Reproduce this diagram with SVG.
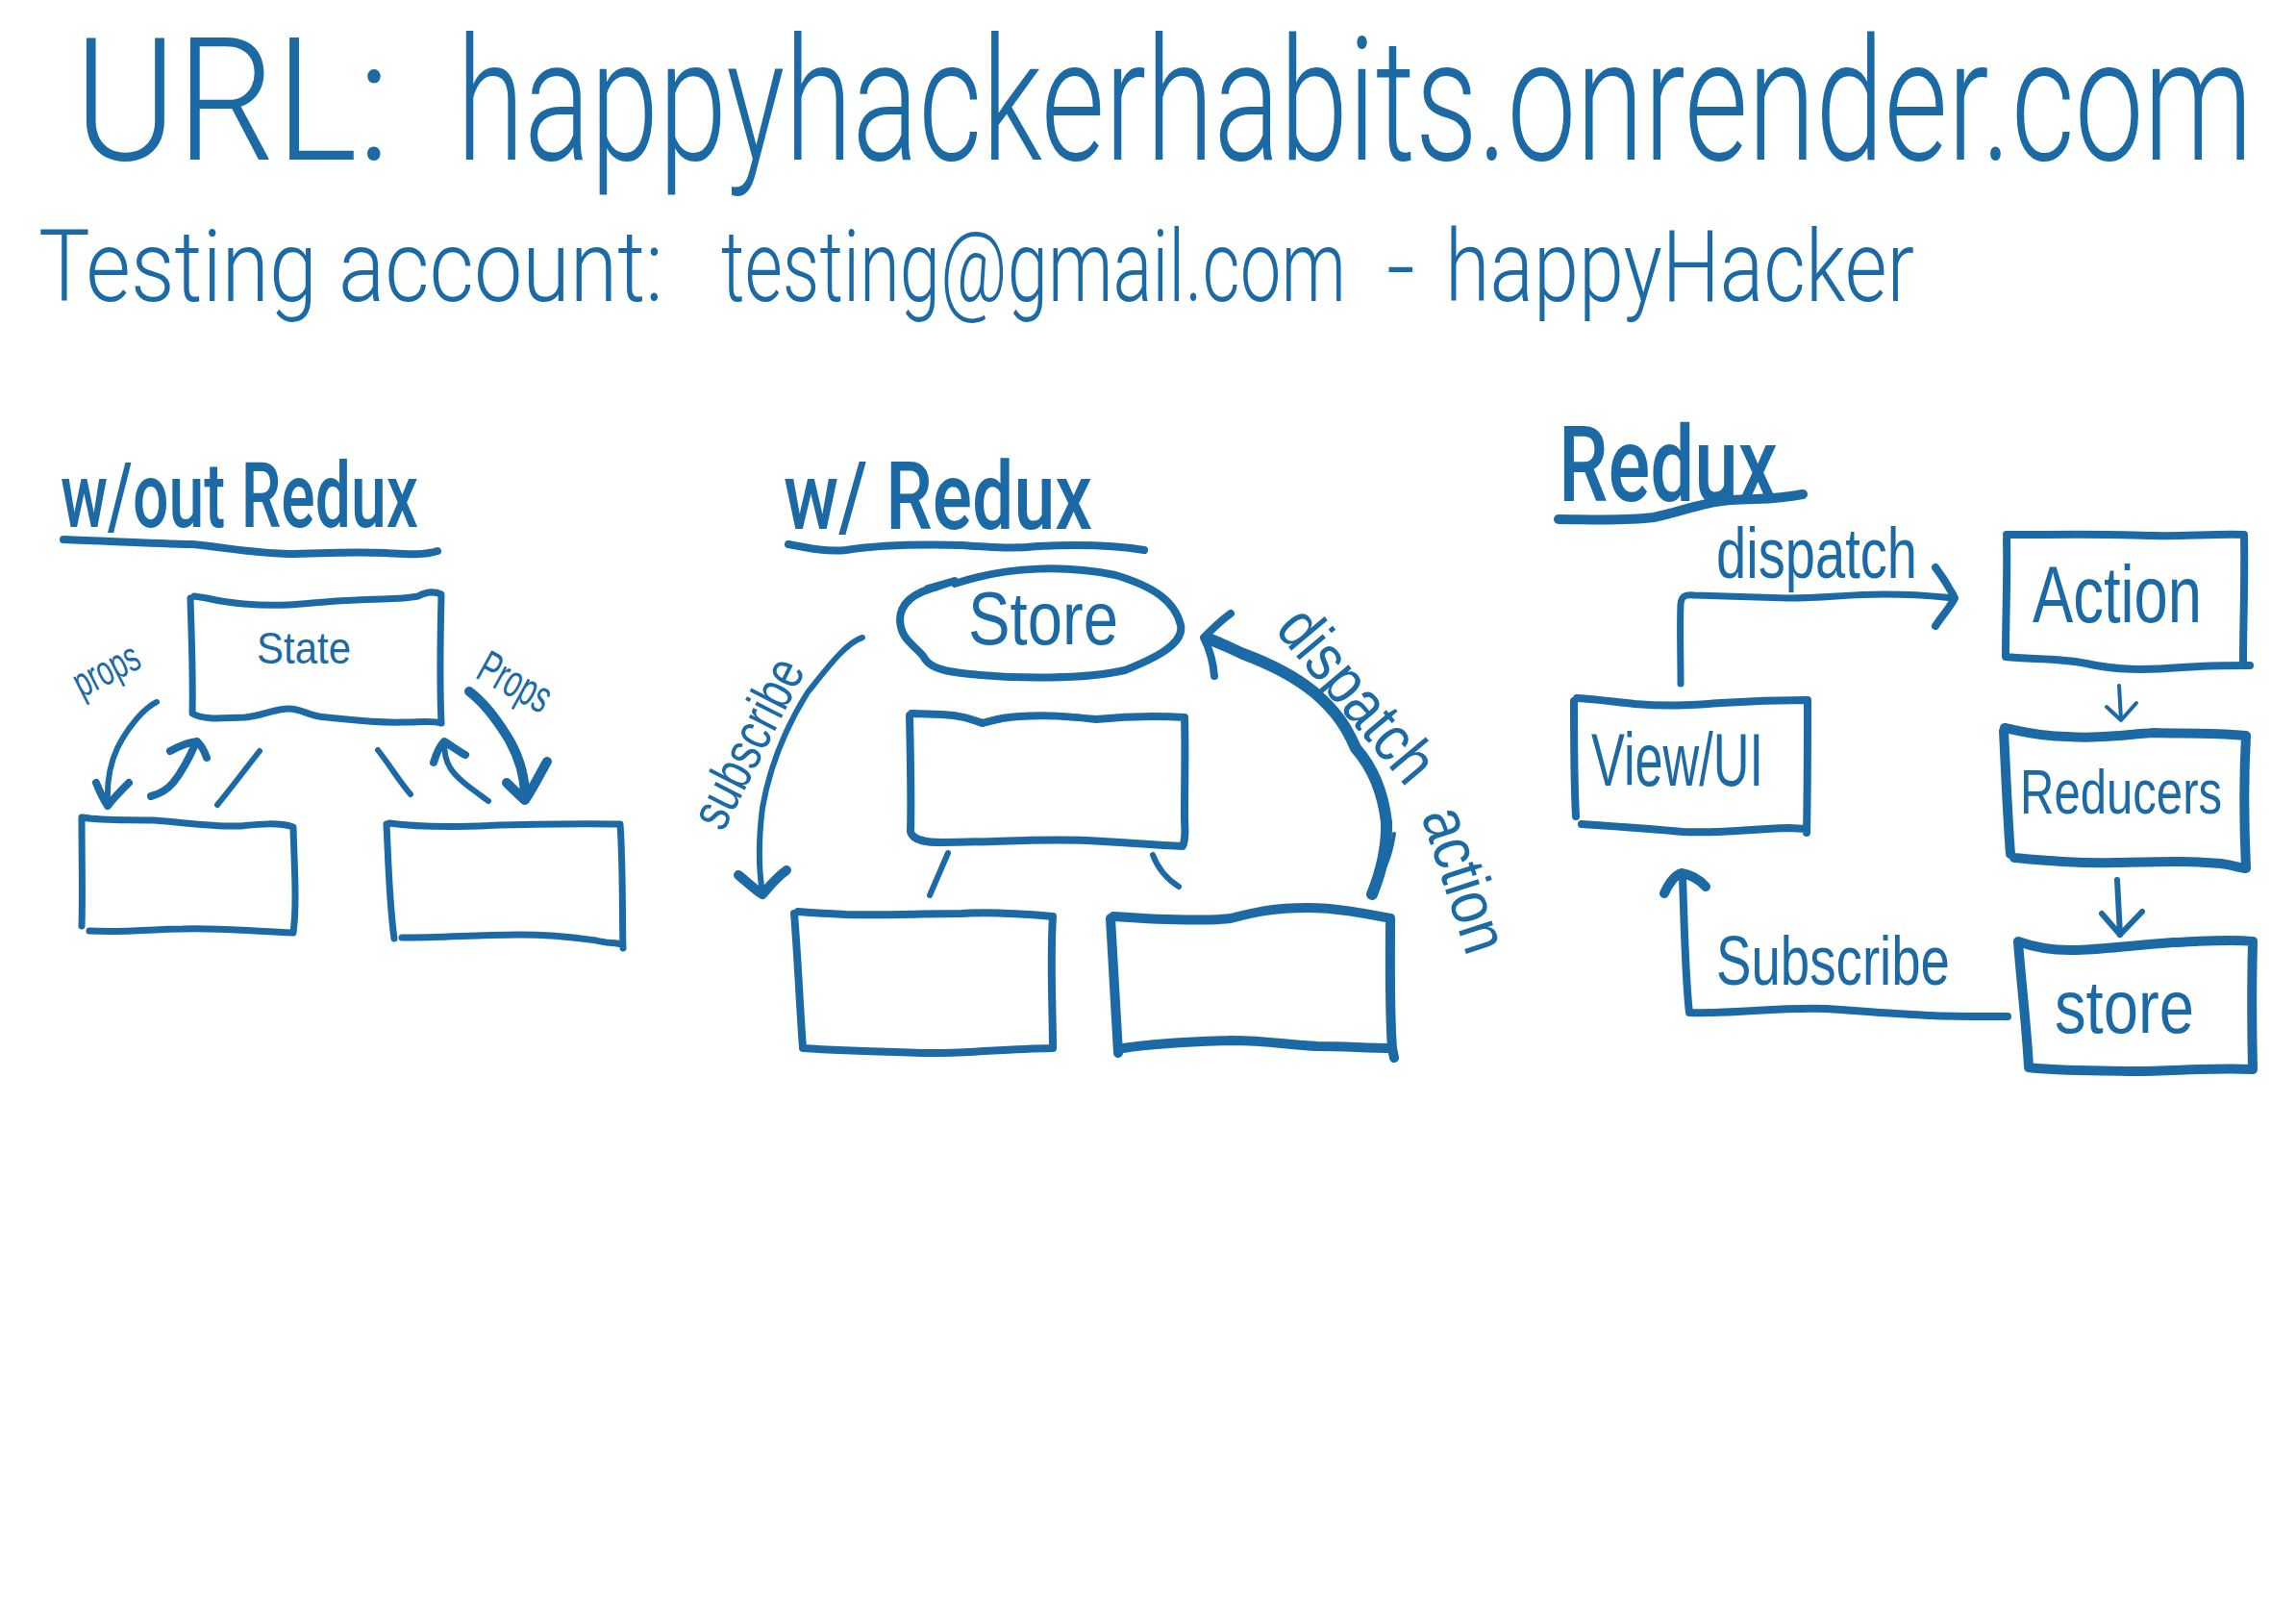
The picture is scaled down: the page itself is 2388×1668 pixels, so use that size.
<svg xmlns="http://www.w3.org/2000/svg" width="2388" height="1668" viewBox="0 0 2388 1668">
<defs>
<style>
.bg{fill:#ffffff}
.ln{fill:none;stroke:#1b6aa6;stroke-linecap:round;stroke-linejoin:round}
.w4{stroke-width:4}
.w6{stroke-width:6}
.w7{stroke-width:7}
.w8{stroke-width:8}
.w10{stroke-width:10}
.w12{stroke-width:12}
.t{fill:#1b6aa6;font-family:"Liberation Sans",Arial,sans-serif}
.thin{font-family:Roboto,"Liberation Sans",Arial,sans-serif;font-weight:300}
.b{font-family:Roboto,"Liberation Sans",Arial,sans-serif;font-weight:500}
</style>
</defs>
<rect class="bg" x="0" y="0" width="2388" height="1668"/>

<g id="title">
<text class="t thin" x="77" y="166" font-size="178" textLength="329" lengthAdjust="spacingAndGlyphs">URL:</text>
<text class="t thin" x="475" y="166" font-size="178" textLength="1868" lengthAdjust="spacingAndGlyphs">happyhackerhabits.onrender.com</text>
</g>
<g id="account">
<text class="t thin" x="40" y="313" font-size="104" textLength="650" lengthAdjust="spacingAndGlyphs">Testing account:</text>
<text class="t thin" x="750" y="313" font-size="104" textLength="650" lengthAdjust="spacingAndGlyphs">testing@gmail.com</text>
<text class="t thin" x="1442" y="313" font-size="104" textLength="30" lengthAdjust="spacingAndGlyphs">-</text>
<text class="t thin" x="1503" y="313" font-size="104" textLength="488" lengthAdjust="spacingAndGlyphs">happyHacker</text>
</g>

<!-- Section 1: without Redux -->
<g id="heading-wout-redux">
<text class="t b" x="63" y="548" font-size="94" textLength="372" lengthAdjust="spacingAndGlyphs">w/out Redux</text>
<path class="ln w8" d="M66,561 C120,563 160,565 200,566 C240,570 260,575 300,576 C330,576 360,573 400,575 C420,576 440,578 455,573"/>
</g>
<g id="state">
<path class="ln w7" d="M198,622 C199,660 201,700 200,742 C215,750 235,746 255,746 C275,744 285,737 300,737 C315,737 320,745 340,746 C370,749 390,752 420,751 C435,751 450,749 459,752 M459,752 C457,710 458,660 459,618 C450,614 442,616 435,620 C415,624 395,622 370,624 C340,625 320,628 300,629 C270,630 240,628 215,622 L202,620"/>
<text class="t" x="267" y="690" font-size="46" textLength="98" lengthAdjust="spacingAndGlyphs">State</text>
</g>
<g id="child-left-1">
<path class="ln w7" d="M85,850 C85,890 86,930 85,963 M93,968 C130,970 160,966 190,966 C230,965 260,968 305,970 C309,940 306,900 305,860 C290,855 270,857 250,859 C220,860 190,855 160,853 C130,852 110,854 86,850"/>
</g>
<g id="child-right-1">
<path class="ln w7" d="M402,857 C404,900 405,940 410,976 M418,975 C460,975 500,972 540,972 C580,972 605,976 620,978 C630,981 640,980 647,982 M648,986 C647,950 648,900 645,857 C600,856 560,857 520,858 C480,860 440,861 405,856"/>
</g>

<!-- Section 2: with Redux -->
<g id="heading-w-redux">
<text class="t b" x="815" y="550" font-size="98" textLength="321" lengthAdjust="spacingAndGlyphs">w/ Redux</text>
<path class="ln w8" d="M820,566 C840,570 860,574 880,572 C920,566 960,566 1000,567 C1030,569 1050,571 1080,568 C1120,566 1160,567 1190,572"/>
</g>
<g id="store-ellipse">
<path class="ln w8" d="M993,607 C1050,588 1110,588 1160,598 C1200,610 1222,625 1228,650 C1232,670 1200,685 1170,697 C1130,706 1060,707 1000,700 C975,697 965,692 960,682 C950,670 937,665 936,645 C936,625 955,615 975,610 L993,604 L965,612"/>
<text class="t" x="1007" y="670" font-size="77" textLength="156" lengthAdjust="spacingAndGlyphs">Store</text>
</g>
<g id="mid-box">
<path class="ln w8" d="M946,744 C947,790 948,830 947,865 C950,875 965,876 980,876 C1030,876 1080,872 1130,874 C1170,876 1200,879 1230,880 C1234,872 1232,860 1232,850 C1232,810 1233,780 1232,746 C1200,744 1170,745 1140,748 C1110,745 1090,743 1060,745 C1040,746 1030,750 1022,752 C1010,748 1000,744 980,743 L948,742"/>
</g>
<g id="bottom-left-box">
<path class="ln w8" d="M826,950 C830,1000 832,1050 835,1090 C880,1093 930,1094 960,1095 C1000,1096 1040,1091 1095,1090 C1095,1050 1092,1000 1095,953 C1060,950 1030,948 1000,950 C960,950 920,952 880,951 C860,950 840,949 830,948"/>
</g>
<g id="bottom-right-box">
<path class="ln w10" d="M1155,955 C1158,1000 1160,1050 1163,1095 M1168,1090 C1200,1085 1240,1083 1280,1082 C1320,1082 1340,1087 1370,1088 C1400,1088 1420,1090 1448,1090 L1450,1100 M1448,1090 C1445,1050 1446,1000 1446,955 C1420,950 1390,944 1360,944 C1320,944 1300,950 1280,955 C1250,958 1200,956 1158,953"/>
</g>

<!-- Section 3: Redux flow -->
<g id="heading-redux">
<text class="t b" x="1621" y="521" font-size="109" textLength="228" lengthAdjust="spacingAndGlyphs">Redux</text>
<path class="ln w10" d="M1621,540 C1650,540 1690,542 1720,538 C1750,532 1770,522 1800,520 C1830,518 1845,520 1875,514"/>
</g>
<g id="action">
<path class="ln w8" d="M2087,560 C2088,600 2086,640 2086,683 C2110,686 2140,684 2170,690 C2200,697 2230,697 2270,694 C2300,692 2320,692 2340,692 M2333,687 C2333,650 2335,600 2334,556 C2300,555 2270,558 2240,557 C2200,556 2170,555 2130,556 L2087,556"/>
<text class="t" x="2114" y="647" font-size="84" textLength="176" lengthAdjust="spacingAndGlyphs">Action</text>
</g>
<g id="reducers">
<path class="ln w10" d="M2084,760 C2086,800 2088,850 2091,888 M2095,892 C2130,895 2160,898 2200,897 C2250,896 2280,895 2310,898 C2325,900 2330,903 2336,903 C2334,860 2333,820 2336,765 C2300,762 2270,763 2240,762 C2200,765 2180,768 2150,766 C2120,766 2100,760 2085,757"/>
<text class="t" x="2101" y="846" font-size="64" textLength="210" lengthAdjust="spacingAndGlyphs">Reducers</text>
</g>
<g id="store">
<path class="ln w10" d="M2099,980 C2103,1030 2108,1070 2110,1110 C2140,1114 2180,1113 2220,1114 C2260,1114 2300,1110 2343,1112 C2342,1070 2342,1020 2343,979 C2320,976 2290,979 2260,980 C2220,983 2190,987 2160,988 C2130,989 2110,983 2099,979"/>
<text class="t" x="2137" y="1074" font-size="78" textLength="145" lengthAdjust="spacingAndGlyphs">store</text>
</g>
<g id="view-ui">
<path class="ln w8" d="M1637,729 C1637,770 1637,810 1639,849 M1645,857 C1690,860 1720,862 1750,865 C1790,867 1820,862 1860,861 L1879,862 M1879,866 C1880,820 1880,770 1880,728 C1850,728 1820,729 1790,731 C1760,733 1740,735 1700,732 C1680,730 1660,727 1640,726"/>
<text class="t" x="1655" y="817" font-size="78" textLength="179" lengthAdjust="spacingAndGlyphs">View/UI</text>
</g>

<g id="connectors">
<!-- without redux -->
<path class="ln w6" d="M163,730 C150,736 133,756 122,778 C114,795 111,815 112,836"/>
<path class="ln w8" d="M100,814 C104,824 108,832 112,838 C118,830 126,822 134,814"/>
<path class="ln w8" d="M157,828 C165,826 174,821 180,814 C188,804 196,790 203,774"/>
<path class="ln w8" d="M177,781 C186,776 196,772 205,771 C210,776 213,782 215,788"/>
<path class="ln w6" d="M226,837 C240,820 255,800 270,781"/>
<path class="ln w6" d="M393,780 C405,795 415,812 427,826"/>
<path class="ln w6" d="M508,833 C490,820 474,809 468,798 C463,790 462,780 462,772"/>
<path class="ln w8" d="M451,793 C454,783 458,775 462,771 C470,776 478,782 484,785"/>
<path class="ln w10" d="M488,719 C500,728 515,745 530,770 C540,788 546,806 546,828"/>
<path class="ln w10" d="M527,814 C535,822 541,828 546,832 C554,820 562,804 569,792"/>
<text class="t" transform="translate(85,726) rotate(-27)" font-size="44" textLength="72" lengthAdjust="spacingAndGlyphs">props</text>
<text class="t" transform="translate(493,704) rotate(29)" font-size="48" textLength="80" lengthAdjust="spacingAndGlyphs">Props</text>
<!-- with redux -->
<path class="ln w6" d="M986,887 L967,931"/>
<path class="ln w6" d="M1199,889 C1205,905 1215,915 1226,922"/>
<path class="ln w6" d="M897,663 C880,668 860,695 840,720 C815,760 800,800 793,840 C788,880 790,910 793,928"/>
<path class="ln w10" d="M768,910 C778,918 785,925 793,930 C800,922 808,912 818,905"/>
<text class="t" transform="translate(752,866) rotate(-63)" font-size="58" textLength="190" lengthAdjust="spacingAndGlyphs">subscribe</text>
<path class="ln w12" d="M1427,930 C1435,910 1443,885 1442,855 C1438,820 1425,795 1410,778 C1400,755 1390,740 1367,720 C1345,702 1320,690 1293,680 C1280,674 1268,668 1256,664"/>
<path class="ln w8" d="M1280,638 C1270,645 1260,655 1252,663 C1258,675 1262,690 1263,703"/>
<path class="ln w4" d="M1450,867 C1447,885 1443,898 1438,905"/>
<text class="t" transform="translate(1325,655) rotate(50)" font-size="68" textLength="215" lengthAdjust="spacingAndGlyphs">dispatch</text>
<text class="t" transform="translate(1478,848) rotate(72)" font-size="68" textLength="155" lengthAdjust="spacingAndGlyphs">action</text>
<!-- redux flow -->
<path class="ln w7" d="M1748,711 C1748,680 1747,650 1748,628 C1749,620 1752,618 1762,619 C1800,620 1830,621 1860,622 C1900,622 1920,618 1960,618 C2000,618 2020,621 2031,622"/>
<path class="ln w8" d="M2013,590 C2022,602 2028,612 2033,622 C2028,632 2020,640 2013,651"/>
<text class="t" x="1785" y="601" font-size="74" textLength="209" lengthAdjust="spacingAndGlyphs">dispatch</text>
<path class="ln w4" d="M2204,713 L2206,748"/>
<path class="ln w4" d="M2191,735 L2206,749 L2222,731"/>
<path class="ln w6" d="M2202,915 L2205,972"/>
<path class="ln w6" d="M2186,950 L2205,972 L2228,948"/>
<path class="ln w8" d="M2088,1057 C2000,1058 1950,1052 1900,1049 C1850,1047 1800,1055 1757,1053 C1753,1020 1752,970 1750,912"/>
<path class="ln w10" d="M1731,929 C1736,918 1742,910 1749,908 C1760,910 1768,915 1774,922"/>
<text class="t" x="1785" y="1024" font-size="72" textLength="243" lengthAdjust="spacingAndGlyphs">Subscribe</text>
</g>
</svg>
